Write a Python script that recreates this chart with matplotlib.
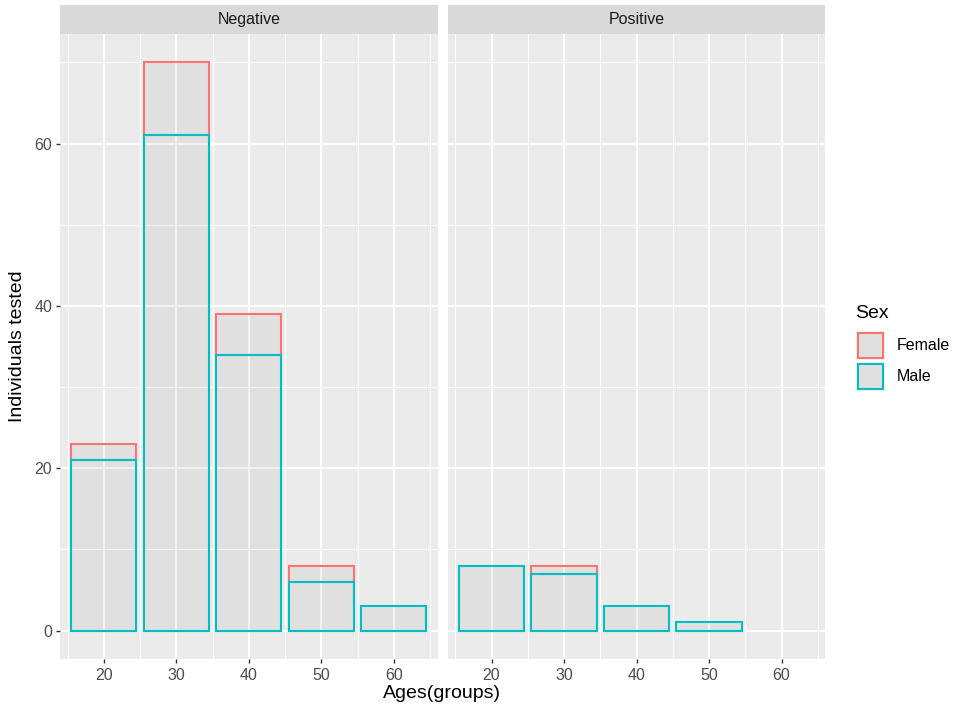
import numpy as np
import matplotlib.pyplot as plt
from matplotlib.patches import Rectangle
from matplotlib.ticker import MultipleLocator

plt.rcParams["font.family"] = ["Liberation Sans", "DejaVu Sans"]

ages = [20, 30, 40, 50, 60]
panels = ["Negative", "Positive"]
male = {"Negative": [21, 61, 34, 6, 3], "Positive": [8, 7, 3, 1, 0]}
female = {"Negative": [2, 9, 5, 2, 0], "Positive": [0, 1, 0, 0, 0]}

col_female = "#F8766D"
col_male = "#00BFC4"
fill = (0.5, 0.5, 0.5, 0.1)


def main():
    W, H = 957, 715
    fig = plt.figure(figsize=(W / 100, H / 100), dpi=100)

    top, bottom = 34, 659
    lefts = [60, 447.7]
    pw = 377.7
    strip_top = 5

    for i, name in enumerate(panels):
        ax = fig.add_axes([lefts[i] / W, 1 - bottom / H, pw / W, (bottom - top) / H])
        ax.set_facecolor("#EBEBEB")
        for s in ax.spines.values():
            s.set_visible(False)

        m = np.array(male[name])
        f = np.array(female[name])
        x = np.array(ages)
        keep = f > 0
        ax.bar(x[keep], f[keep], bottom=m[keep], width=9, facecolor=fill,
               edgecolor=col_female, linewidth=1.5, zorder=3)
        keep = m > 0
        ax.bar(x[keep], m[keep], width=9, facecolor=fill,
               edgecolor=col_male, linewidth=1.5, zorder=4)

        ax.set_xlim(13.95, 66.05)
        ax.set_ylim(-3.5, 73.5)
        ax.set_xticks(ages)
        ax.set_yticks([0, 20, 40, 60])
        ax.xaxis.set_minor_locator(MultipleLocator(10, offset=5))
        ax.yaxis.set_minor_locator(MultipleLocator(10, offset=10))
        ax.grid(True, which="major", color="white", linewidth=1.4)
        ax.grid(True, which="minor", color="white", linewidth=0.7)
        ax.set_axisbelow(True)
        ax.tick_params(which="minor", length=0)
        ax.tick_params(which="major", length=3.2, width=1, color="#333333",
                       labelcolor="#4D4D4D", labelsize=11.5, pad=2.5)
        ax.tick_params(axis="x", pad=3.5)
        if i > 0:
            ax.tick_params(axis="y", which="major", length=0, labelleft=False)

        # facet strip
        sax = fig.add_axes([lefts[i] / W, 1 - top / H, pw / W, (top - strip_top) / H])
        sax.set_facecolor("#D9D9D9")
        sax.set_xticks([])
        sax.set_yticks([])
        for s in sax.spines.values():
            s.set_visible(False)
        sax.text(0.5, 0.5, name, ha="center", va="center", fontsize=11.5,
                 color="#1A1A1A", transform=sax.transAxes)

    fig.text(442 / W, 1 - 694 / H, "Ages(groups)", ha="center", va="center",
             fontsize=14, color="black")
    fig.text(18 / W, 1 - 346 / H, "Individuals tested", ha="center", va="center",
             rotation=90, fontsize=14, color="black")

    # legend
    fig.text(855 / W, 1 - 314 / H, "Sex", ha="left", va="center", fontsize=14)
    for j, (lab, c) in enumerate([("Female", col_female), ("Male", col_male)]):
        y0 = 331 + j * 31
        fig.add_artist(Rectangle((856 / W, 1 - (y0 + 29) / H), 29 / W, 29 / H,
                                 facecolor="#F2F2F2", edgecolor="none",
                                 transform=fig.transFigure))
        fig.add_artist(Rectangle((858 / W, 1 - (y0 + 27) / H), 25 / W, 25 / H,
                                 facecolor="#E0E0E0", edgecolor=c, linewidth=1.5,
                                 transform=fig.transFigure))
        fig.text(897 / W, 1 - (y0 + 15) / H, lab, ha="left", va="center",
                 fontsize=11.5)

    fig.savefig("out.png", dpi=100)


if __name__ == "__main__":
    main()
